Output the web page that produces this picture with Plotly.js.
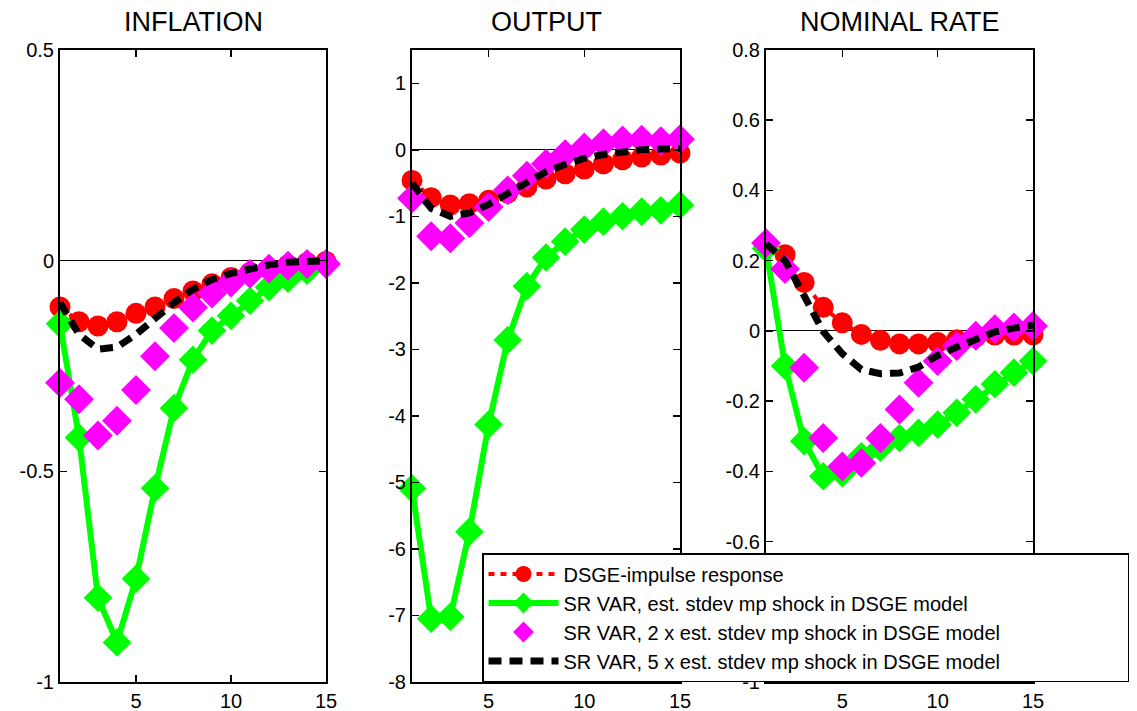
<!DOCTYPE html>
<html>
<head>
<meta charset="utf-8">
<script src="https://cdn.plot.ly/plotly-3.0.1.min.js"></script>
<style>html,body{margin:0;padding:0;background:#fff;}#chart{width:1137px;height:711px;}</style>
</head>
<body>
<div id="chart"></div>
<script>
const horizon = [1,2,3,4,5,6,7,8,9,10,11,12,13,14,15];

const panelTitles = ["INFLATION", "OUTPUT", "NOMINAL RATE"];
const seriesNames = [
  "DSGE-impulse response",
  "SR VAR, est. stdev mp shock in DSGE model",
  "SR VAR, 2 x est. stdev mp shock in DSGE model",
  "SR VAR, 5 x est. stdev mp shock in DSGE model"
];

// INFLATION
const inflDSGE = [-0.11,-0.145,-0.155,-0.145,-0.125,-0.11,-0.09,-0.072,-0.055,-0.04,-0.028,-0.018,-0.01,-0.005,-0.002];
const inflVAR1 = [-0.15,-0.42,-0.80,-0.906,-0.755,-0.54,-0.35,-0.235,-0.166,-0.131,-0.095,-0.063,-0.043,-0.024,-0.008];
const inflVAR2 = [-0.29,-0.329,-0.415,-0.38,-0.307,-0.227,-0.16,-0.111,-0.078,-0.052,-0.031,-0.019,-0.012,-0.008,-0.008];
const inflVAR5 = [-0.10,-0.175,-0.21,-0.205,-0.175,-0.135,-0.10,-0.068,-0.045,-0.03,-0.018,-0.01,-0.004,-0.001,0];

// OUTPUT
const outDSGE = [-0.46,-0.72,-0.83,-0.81,-0.76,-0.65,-0.56,-0.44,-0.36,-0.29,-0.21,-0.15,-0.11,-0.08,-0.05];
const outVAR1 = [-5.09,-7.05,-7.02,-5.74,-4.13,-2.86,-2.05,-1.62,-1.38,-1.2,-1.08,-1.0,-0.93,-0.91,-0.83];
const outVAR2 = [-0.73,-1.3,-1.33,-1.1,-0.86,-0.61,-0.39,-0.21,-0.065,0.035,0.1,0.14,0.15,0.13,0.16];
const outVAR5 = [-0.5,-0.88,-1.0,-0.95,-0.82,-0.65,-0.47,-0.33,-0.22,-0.13,-0.07,-0.03,0.0,0.01,0.02];

// NOMINAL RATE
const rateDSGE = [0.25,0.217,0.138,0.067,0.023,-0.01,-0.027,-0.037,-0.037,-0.033,-0.025,-0.017,-0.012,-0.012,-0.011];
const rateVAR1 = [0.235,-0.1,-0.314,-0.414,-0.405,-0.357,-0.333,-0.305,-0.29,-0.267,-0.233,-0.195,-0.152,-0.119,-0.086];
const rateVAR2 = [0.25,0.176,-0.105,-0.305,-0.386,-0.376,-0.305,-0.224,-0.148,-0.086,-0.043,-0.014,0.005,0.01,0.014];
const rateVAR5 = [0.248,0.2,0.1,-0.002,-0.065,-0.11,-0.122,-0.12,-0.103,-0.07,-0.046,-0.022,-0.003,0.008,0.016];

const xTicks = [5,10,15];
const inflTicks = [-1,-0.5,0,0.5];
const inflTickText = ["-1","-0.5","0","0.5"];
const outTicks = [-8,-7,-6,-5,-4,-3,-2,-1,0,1];
const outTickText = ["-8","-7","-6","-5","-4","-3","-2","-1","0","1"];
const rateTicks = [-1,-0.6,-0.4,-0.2,0,0.2,0.4,0.6,0.8];
const rateTickText = ["-1","-0.6","-0.4","-0.2","0","0.2","0.4","0.6","0.8"];

const FONT = "Liberation Sans, Arial, Helvetica, sans-serif";
const LEGEND_PAD = "\u00a0".repeat(22); // widens the legend box to the reference width
const panels = [
  {data:[inflDSGE,inflVAR1,inflVAR2,inflVAR5], range:[-1,0.5], tv:inflTicks, tt:inflTickText, dom:[60/1137,326/1137]},
  {data:[outDSGE,outVAR1,outVAR2,outVAR5], range:[-8,1.5], tv:outTicks, tt:outTickText, dom:[412/1137,680/1137]},
  {data:[rateDSGE,rateVAR1,rateVAR2,rateVAR5], range:[-1,0.8], tv:rateTicks, tt:rateTickText, dom:[766/1137,1033/1137]}
];

const styles = [
  {mode:"lines+markers", line:{color:"#ff0000", width:4, dash:"6px,6px"}, marker:{symbol:"circle", size:21, color:"#ff0000"}},
  {mode:"lines+markers", line:{color:"#00ff00", width:6}, marker:{symbol:"diamond", size:22, color:"#00ff00"}},
  {mode:"markers", marker:{symbol:"diamond", size:23, color:"#ff00ff"}},
  {mode:"lines", line:{color:"#000000", width:7, dash:"13px,8px"}}
];

const traces = [];
const layout = {
  width:1137, height:711,
  margin:{l:0, r:0, t:0, b:0},
  paper_bgcolor:"#fff", plot_bgcolor:"#fff",
  showlegend:true,
  font:{family:FONT, color:"#000"},
  legend:{
    x:482/1137, y:1-682/711, xanchor:"left", yanchor:"bottom",
    bgcolor:"#fff", bordercolor:"#000", borderwidth:1.5,
    font:{family:FONT, size:20, color:"#000"},
    itemwidth:70, tracegroupgap:0
  },
  annotations:[]
};

panels.forEach((p, i) => {
  const sfx = i === 0 ? "" : String(i+1);
  p.data.forEach((vals, k) => {
    const t = Object.assign({
      type:"scatter", x:horizon, y:vals,
      name: k === 2 ? seriesNames[k] + LEGEND_PAD : seriesNames[k],
      xaxis:"x"+sfx, yaxis:"y"+sfx, showlegend:i===0, cliponaxis:false
    }, JSON.parse(JSON.stringify(styles[k])));
    traces.push(t);
  });
  layout["xaxis"+sfx] = {
    domain:p.dom, range:[1,15], anchor:"y"+sfx,
    tickvals:xTicks, ticktext:xTicks.map(String),
    ticks:"inside", ticklen:7, tickwidth:1.5, tickcolor:"#000",
    showline:true, linecolor:"#000", linewidth:2, mirror:"ticks",
    showgrid:false, zeroline:false,
    tickfont:{family:FONT, size:20, color:"#000"}
  };
  layout["yaxis"+sfx] = {
    domain:[1-682/711, 1-50/711], range:p.range, anchor:"x"+sfx,
    tickvals:p.tv, ticktext:p.tt,
    ticks:"inside", ticklen:7, tickwidth:1.5, tickcolor:"#000",
    showline:true, linecolor:"#000", linewidth:2, mirror:"ticks",
    showgrid:false, zeroline:true, zerolinecolor:"#000", zerolinewidth:1,
    tickfont:{family:FONT, size:20, color:"#000"}
  };
  layout.annotations.push({
    text:panelTitles[i], xref:"paper", yref:"paper",
    x:(p.dom[0]+p.dom[1])/2, y:1-22/711, xanchor:"center", yanchor:"middle",
    showarrow:false, font:{family:FONT, size:27, color:"#000"}
  });
});

Plotly.newPlot("chart", traces, layout, {displayModeBar:false, staticPlot:true});
</script>
</body>
</html>
